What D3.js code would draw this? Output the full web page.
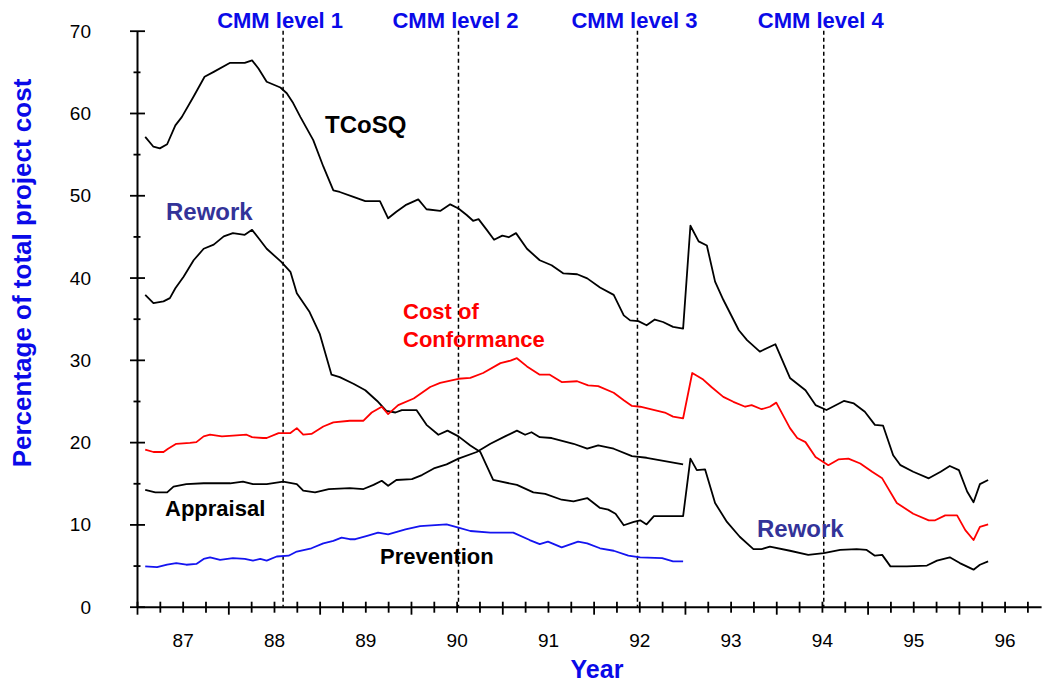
<!DOCTYPE html>
<html>
<head>
<meta charset="utf-8">
<script src="https://cdn.jsdelivr.net/npm/d3@7"></script>
<style>
  html, body { margin: 0; padding: 0; background: #ffffff; }
  svg { display: block; font-family: "Liberation Sans", Arial, Helvetica, sans-serif; }
</style>
</head>
<body>
<script>
// ---------------- DATA ----------------
const yearLabels = ["87", "88", "89", "90", "91", "92", "93", "94", "95", "96"];
const yTickLabels = [0, 10, 20, 30, 40, 50, 60, 70];

const cmmYears = [1988.60, 1990.52, 1992.48, 1994.52];
const cmmLabels = ["CMM level 1", "CMM level 2", "CMM level 3", "CMM level 4"];

// [year, percentage of total project cost]
const tcosq = [[1987.09,57.1],[1987.18,55.9],[1987.25,55.7],[1987.33,56.2],[1987.42,58.5],[1987.49,59.5],[1987.62,62.0],[1987.74,64.4],[1987.84,65.0],[1988.02,66.1],[1988.18,66.1],[1988.26,66.4],[1988.33,65.4],[1988.42,63.8],[1988.57,63.1],[1988.64,62.4],[1988.71,61.2],[1988.79,59.5],[1988.93,56.7],[1989.04,53.5],[1989.15,50.6],[1989.22,50.4],[1989.37,49.8],[1989.50,49.3],[1989.66,49.3],[1989.75,47.2],[1989.84,48.0],[1989.94,48.8],[1990.08,49.5],[1990.17,48.3],[1990.32,48.1],[1990.43,48.9],[1990.52,48.4],[1990.61,47.6],[1990.68,46.9],[1990.74,47.1],[1990.83,45.8],[1990.91,44.6],[1991.00,45.1],[1991.07,44.9],[1991.15,45.4],[1991.27,43.5],[1991.41,42.1],[1991.54,41.5],[1991.67,40.5],[1991.82,40.4],[1991.93,39.9],[1992.07,38.8],[1992.22,37.9],[1992.33,35.4],[1992.40,34.8],[1992.49,34.7],[1992.58,34.2],[1992.67,34.9],[1992.76,34.6],[1992.87,34.0],[1992.98,33.8],[1993.06,46.3],[1993.15,44.4],[1993.24,43.9],[1993.33,39.5],[1993.42,37.3],[1993.59,33.6],[1993.68,32.4],[1993.82,31.0],[1993.99,31.9],[1994.15,27.8],[1994.32,26.3],[1994.43,24.5],[1994.55,23.9],[1994.74,25.0],[1994.85,24.7],[1994.97,23.7],[1995.08,22.1],[1995.17,22.0],[1995.28,18.4],[1995.36,17.2],[1995.50,16.4],[1995.67,15.6],[1995.80,16.4],[1995.90,17.1],[1996.00,16.6],[1996.09,14.0],[1996.16,12.7],[1996.23,14.9],[1996.32,15.4]];

const rework = [[1987.09,37.9],[1987.18,36.9],[1987.29,37.1],[1987.36,37.5],[1987.42,38.7],[1987.51,40.1],[1987.62,42.1],[1987.73,43.5],[1987.84,44.0],[1987.95,45.0],[1988.05,45.4],[1988.18,45.2],[1988.26,45.8],[1988.33,44.8],[1988.42,43.5],[1988.58,41.9],[1988.68,40.7],[1988.75,38.1],[1988.89,35.8],[1989.00,33.2],[1989.13,28.2],[1989.22,27.9],[1989.37,27.1],[1989.50,26.3],[1989.63,25.0],[1989.73,23.8],[1989.83,23.6],[1989.90,23.9],[1990.06,23.9],[1990.17,22.1],[1990.30,20.9],[1990.40,21.4],[1990.52,20.7],[1990.65,19.6],[1990.76,18.8],[1990.90,15.4],[1991.16,14.8],[1991.34,13.9],[1991.47,13.7],[1991.65,13.0],[1991.78,12.8],[1991.93,13.2],[1992.07,12.0],[1992.16,11.8],[1992.24,11.3],[1992.33,9.9],[1992.44,10.3],[1992.51,10.5],[1992.58,10.0],[1992.66,11.0],[1992.98,11.0],[1993.06,18.0],[1993.13,16.6],[1993.22,16.7],[1993.33,12.6],[1993.46,10.3],[1993.60,8.5],[1993.75,7.0],[1993.84,7.0],[1993.93,7.3],[1994.15,6.8],[1994.35,6.3],[1994.52,6.5],[1994.70,6.9],[1994.88,7.0],[1994.99,6.9],[1995.08,6.2],[1995.16,6.3],[1995.25,4.9],[1995.43,4.9],[1995.65,5.0],[1995.76,5.6],[1995.90,6.0],[1996.01,5.3],[1996.16,4.5],[1996.23,5.1],[1996.32,5.5]];

const conformance = [[1987.09,19.1],[1987.18,18.8],[1987.29,18.8],[1987.34,19.2],[1987.43,19.8],[1987.58,19.9],[1987.65,20.0],[1987.73,20.7],[1987.80,20.9],[1987.93,20.7],[1988.05,20.8],[1988.20,20.9],[1988.26,20.6],[1988.38,20.5],[1988.42,20.5],[1988.55,21.1],[1988.68,21.1],[1988.75,21.7],[1988.82,20.9],[1988.91,21.0],[1989.04,21.9],[1989.15,22.4],[1989.33,22.6],[1989.48,22.6],[1989.57,23.6],[1989.68,24.3],[1989.75,23.4],[1989.86,24.5],[1990.03,25.3],[1990.21,26.7],[1990.32,27.2],[1990.52,27.7],[1990.65,27.8],[1990.79,28.4],[1990.98,29.6],[1991.09,29.9],[1991.16,30.2],[1991.27,29.2],[1991.41,28.2],[1991.52,28.2],[1991.65,27.3],[1991.82,27.4],[1991.94,26.9],[1992.05,26.8],[1992.22,26.0],[1992.33,25.1],[1992.42,24.4],[1992.51,24.3],[1992.78,23.6],[1992.87,23.1],[1992.98,22.9],[1993.08,28.4],[1993.20,27.6],[1993.29,26.7],[1993.42,25.5],[1993.53,24.9],[1993.66,24.3],[1993.73,24.5],[1993.84,24.0],[1993.93,24.3],[1994.00,24.8],[1994.15,21.7],[1994.23,20.5],[1994.32,20.0],[1994.43,18.2],[1994.57,17.2],[1994.68,17.9],[1994.79,18.0],[1994.92,17.4],[1995.05,16.4],[1995.16,15.6],[1995.32,12.6],[1995.50,11.3],[1995.67,10.5],[1995.74,10.5],[1995.85,11.1],[1995.98,11.1],[1996.07,9.3],[1996.16,8.1],[1996.23,9.7],[1996.32,10.0]];

const appraisal = [[1987.09,14.2],[1987.20,13.9],[1987.33,13.9],[1987.40,14.6],[1987.54,14.9],[1987.73,15.0],[1988.02,15.0],[1988.16,15.2],[1988.27,14.9],[1988.42,14.9],[1988.60,15.2],[1988.75,14.9],[1988.82,14.1],[1988.95,13.9],[1989.10,14.3],[1989.33,14.4],[1989.48,14.3],[1989.59,14.8],[1989.68,15.3],[1989.75,14.7],[1989.84,15.4],[1990.01,15.5],[1990.12,16.0],[1990.25,16.8],[1990.39,17.3],[1990.52,18.0],[1990.72,18.8],[1990.87,19.8],[1991.03,20.7],[1991.16,21.4],[1991.25,20.9],[1991.32,21.2],[1991.41,20.6],[1991.54,20.5],[1991.78,19.8],[1991.93,19.2],[1992.05,19.6],[1992.22,19.2],[1992.42,18.3],[1992.58,18.1],[1992.98,17.3]];

const prevention = [[1987.09,4.9],[1987.22,4.8],[1987.33,5.1],[1987.43,5.3],[1987.54,5.1],[1987.65,5.2],[1987.73,5.8],[1987.80,6.0],[1987.91,5.7],[1988.05,5.9],[1988.18,5.8],[1988.27,5.6],[1988.35,5.8],[1988.42,5.6],[1988.53,6.1],[1988.66,6.2],[1988.75,6.7],[1988.91,7.1],[1989.04,7.7],[1989.15,8.0],[1989.24,8.4],[1989.33,8.2],[1989.39,8.2],[1989.52,8.6],[1989.64,9.0],[1989.75,8.8],[1989.94,9.4],[1990.10,9.8],[1990.39,10.0],[1990.52,9.6],[1990.65,9.2],[1990.87,9.0],[1991.12,9.0],[1991.30,8.1],[1991.41,7.6],[1991.50,7.9],[1991.65,7.2],[1991.83,7.9],[1991.93,7.7],[1992.07,7.1],[1992.22,6.8],[1992.38,6.2],[1992.51,6.0],[1992.75,5.9],[1992.87,5.5],[1992.98,5.5]];

// ---------------- CHART ----------------
const W = 1042, H = 685;
const FONT = '"Liberation Sans", Arial, Helvetica, sans-serif';
const BLUE = "#0a0ae8";

const svg = d3.select("body").append("svg").attr("width", W).attr("height", H);
svg.append("rect").attr("width", W).attr("height", H).attr("fill", "#fff");

const x = d3.scaleLinear().domain([1987, 1996.9]).range([137, 1041.1]);
const y = d3.scaleLinear().domain([0, 70]).range([606.7, 30.7]);

// CMM dashed lines
const cmm = svg.append("g");
cmm.selectAll("line").data(cmmYears).join("line")
  .attr("x1", d => x(d)).attr("x2", d => x(d))
  .attr("y1", y(70)).attr("y2", y(0))
  .attr("stroke", "#000").attr("stroke-width", 1.5)
  .attr("stroke-dasharray", "4,3");
cmm.selectAll("text").data(cmmLabels).join("text")
  .attr("x", (d, i) => x(cmmYears[i]) - 3)
  .attr("y", 28)
  .attr("text-anchor", "middle")
  .attr("font-size", 22).attr("font-weight", "bold")
  .attr("fill", BLUE)
  .text(d => d);

// X axis
const xTickVals = d3.range(0, 40).map(i => 1987 + i * 0.25);
const xAxis = d3.axisBottom(x)
  .tickValues(xTickVals)
  .tickSizeInner(0).tickSizeOuter(0)
  .tickFormat(d => (d % 1 === 0.5) ? yearLabels[Math.floor(d) - 1987] : "");
const gx = svg.append("g").attr("transform", `translate(0,${y(0)})`).call(xAxis);
gx.select(".domain").attr("stroke", "#000").attr("stroke-width", 2);
gx.selectAll(".tick line")
  .attr("y1", -5)
  .attr("y2", d => (d % 1 === 0) ? 8 : 6)
  .attr("stroke", "#000").attr("stroke-width", 1.8);
gx.selectAll(".tick text")
  .attr("y", 40).attr("dy", 0)
  .attr("font-family", FONT).attr("font-size", 19).attr("fill", "#000");

// Y axis
const yAxis = d3.axisLeft(y)
  .tickValues(d3.range(0, 71, 5))
  .tickSizeInner(0).tickSizeOuter(0)
  .tickFormat(d => yTickLabels.includes(d) ? String(d) : "");
const gy = svg.append("g").attr("transform", `translate(${x(1987)},0)`).call(yAxis);
gy.select(".domain").attr("stroke", "#000").attr("stroke-width", 2);
gy.selectAll(".tick line")
  .attr("x1", d => (d % 10 === 0) ? -7 : -3.5)
  .attr("x2", d => (d % 10 === 0) ? 8 : 3.5)
  .attr("stroke", "#000").attr("stroke-width", 1.8);
gy.selectAll(".tick text")
  .attr("x", -46).attr("dy", "0.34em")
  .attr("font-family", FONT).attr("font-size", 19).attr("fill", "#000");

// Lines
const line = d3.line().x(d => x(d[0])).y(d => y(d[1]));
const series = [
  { data: tcosq, color: "#000" },
  { data: rework, color: "#000" },
  { data: appraisal, color: "#000" },
  { data: conformance, color: "#ff0000" },
  { data: prevention, color: "#1414f0" }
];
svg.append("g").selectAll("path").data(series).join("path")
  .attr("d", d => line(d.data))
  .attr("fill", "none")
  .attr("stroke", d => d.color)
  .attr("stroke-width", 1.8)
  .attr("stroke-linejoin", "round");

// Series annotations
const ann = svg.append("g").attr("font-weight", "bold");
function label(txt, px, py, size, color) {
  ann.append("text").attr("x", px).attr("y", py)
    .attr("font-size", size).attr("fill", color).text(txt);
}
label("TCoSQ", 325, 133, 24, "#000");
label("Rework", 166, 220, 24, "#333399");
label("Cost of", 403, 319, 22, "#ff0000");
label("Conformance", 403, 347, 22, "#ff0000");
label("Appraisal", 165, 516, 22, "#000");
label("Prevention", 380, 564, 22, "#000");
label("Rework", 757, 537, 24, "#333399");

// Axis titles
svg.append("text")
  .attr("x", 597).attr("y", 678)
  .attr("text-anchor", "middle")
  .attr("font-size", 25).attr("font-weight", "bold").attr("fill", BLUE)
  .text("Year");
svg.append("text")
  .attr("transform", "translate(31,273) rotate(-90)")
  .attr("text-anchor", "middle")
  .attr("font-size", 26).attr("font-weight", "bold").attr("fill", BLUE)
  .text("Percentage of total project cost");
</script>
</body>
</html>
